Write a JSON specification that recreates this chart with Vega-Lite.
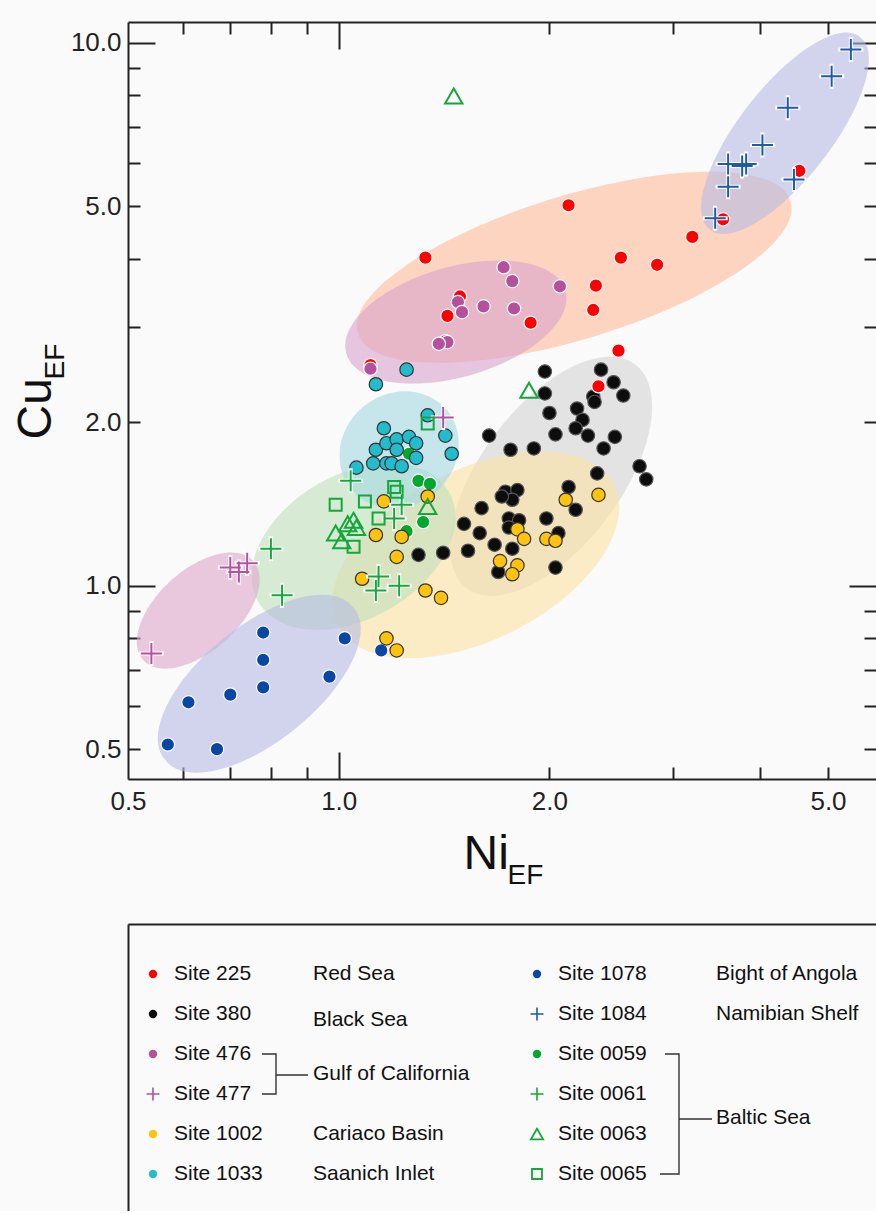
{
  "$schema": "https://vega.github.io/schema/vega-lite/v6.json",
  "background": "#fafafa",
  "padding": {"left": 12, "top": 21, "right": 0, "bottom": 0},
  "spacing": 35,
  "config": {
    "font": "Liberation Sans",
    "view": {"stroke": null},
    "axis": {"grid": false, "domainColor": "#222222", "tickColor": "#222222", "labelColor": "#222222", "titleColor": "#111111", "titleFontWeight": "normal", "domainWidth": 2, "tickWidth": 2}
  },
  "datasets": {
    "ellipses": [
      {"grp": "Site 380", "ni": 2.01, "cu": 1.59},
      {"grp": "Site 1002", "ni": 1.57, "cu": 1.14},
      {"grp": "Baltic", "ni": 1.05, "cu": 1.18},
      {"grp": "Site 1033", "ni": 1.22, "cu": 1.78},
      {"grp": "Site 225", "ni": 2.17, "cu": 3.86},
      {"grp": "Site 476", "ni": 1.47, "cu": 3.06},
      {"grp": "Site 1084", "ni": 4.34, "cu": 6.81},
      {"grp": "Site 477", "ni": 0.63, "cu": 0.90},
      {"grp": "Site 1078", "ni": 0.77, "cu": 0.66}
    ],
    "pts": [
      {"site": "Site 380", "ni": 1.97, "cu": 2.48}, {"site": "Site 380", "ni": 2.37, "cu": 2.50}, {"site": "Site 380", "ni": 2.47, "cu": 2.37}, {"site": "Site 380", "ni": 2.55, "cu": 2.24},
      {"site": "Site 380", "ni": 1.97, "cu": 2.26}, {"site": "Site 380", "ni": 2.31, "cu": 2.23}, {"site": "Site 380", "ni": 2.32, "cu": 2.18}, {"site": "Site 380", "ni": 2.00, "cu": 2.08},
      {"site": "Site 380", "ni": 2.19, "cu": 2.12}, {"site": "Site 380", "ni": 2.23, "cu": 2.02}, {"site": "Site 380", "ni": 2.18, "cu": 1.95}, {"site": "Site 380", "ni": 2.27, "cu": 1.89},
      {"site": "Site 380", "ni": 2.48, "cu": 1.88}, {"site": "Site 380", "ni": 2.04, "cu": 1.90}, {"site": "Site 380", "ni": 1.64, "cu": 1.89}, {"site": "Site 380", "ni": 2.39, "cu": 1.79},
      {"site": "Site 380", "ni": 1.76, "cu": 1.78}, {"site": "Site 380", "ni": 1.90, "cu": 1.79}, {"site": "Site 380", "ni": 2.69, "cu": 1.66}, {"site": "Site 380", "ni": 2.75, "cu": 1.57},
      {"site": "Site 380", "ni": 2.34, "cu": 1.61}, {"site": "Site 380", "ni": 2.13, "cu": 1.52}, {"site": "Site 380", "ni": 2.18, "cu": 1.38}, {"site": "Site 380", "ni": 1.73, "cu": 1.49},
      {"site": "Site 380", "ni": 1.80, "cu": 1.50}, {"site": "Site 380", "ni": 1.77, "cu": 1.44}, {"site": "Site 380", "ni": 1.71, "cu": 1.46}, {"site": "Site 380", "ni": 1.60, "cu": 1.39},
      {"site": "Site 380", "ni": 1.51, "cu": 1.30}, {"site": "Site 380", "ni": 1.59, "cu": 1.25}, {"site": "Site 380", "ni": 1.75, "cu": 1.33}, {"site": "Site 380", "ni": 1.81, "cu": 1.32},
      {"site": "Site 380", "ni": 1.75, "cu": 1.28}, {"site": "Site 380", "ni": 1.98, "cu": 1.33}, {"site": "Site 380", "ni": 2.06, "cu": 1.25}, {"site": "Site 380", "ni": 1.67, "cu": 1.19},
      {"site": "Site 380", "ni": 1.77, "cu": 1.17}, {"site": "Site 380", "ni": 1.53, "cu": 1.16}, {"site": "Site 380", "ni": 1.41, "cu": 1.15}, {"site": "Site 380", "ni": 1.30, "cu": 1.14},
      {"site": "Site 380", "ni": 1.69, "cu": 1.06}, {"site": "Site 380", "ni": 2.04, "cu": 1.08},
      {"site": "Site 0059", "ni": 1.26, "cu": 1.75}, {"site": "Site 0059", "ni": 1.30, "cu": 1.56}, {"site": "Site 0059", "ni": 1.35, "cu": 1.54}, {"site": "Site 0059", "ni": 1.32, "cu": 1.31}, {"site": "Site 0059", "ni": 1.25, "cu": 1.26},
      {"site": "Site 1078", "ni": 0.78, "cu": 0.82}, {"site": "Site 1078", "ni": 0.78, "cu": 0.73}, {"site": "Site 1078", "ni": 0.78, "cu": 0.65}, {"site": "Site 1078", "ni": 0.70, "cu": 0.63},
      {"site": "Site 1078", "ni": 0.61, "cu": 0.61}, {"site": "Site 1078", "ni": 0.57, "cu": 0.51}, {"site": "Site 1078", "ni": 0.67, "cu": 0.50}, {"site": "Site 1078", "ni": 1.02, "cu": 0.80},
      {"site": "Site 1078", "ni": 0.97, "cu": 0.68}, {"site": "Site 1078", "ni": 1.15, "cu": 0.76},
      {"site": "Site 225", "ni": 3.20, "cu": 4.39}, {"site": "Site 225", "ni": 3.54, "cu": 4.73}, {"site": "Site 225", "ni": 4.55, "cu": 5.81}, {"site": "Site 225", "ni": 2.13, "cu": 5.02},
      {"site": "Site 225", "ni": 1.33, "cu": 4.02}, {"site": "Site 225", "ni": 2.53, "cu": 4.02}, {"site": "Site 225", "ni": 2.85, "cu": 3.90}, {"site": "Site 225", "ni": 2.33, "cu": 3.57},
      {"site": "Site 225", "ni": 2.31, "cu": 3.22}, {"site": "Site 225", "ni": 1.43, "cu": 3.14}, {"site": "Site 225", "ni": 1.88, "cu": 3.05}, {"site": "Site 225", "ni": 2.51, "cu": 2.71},
      {"site": "Site 225", "ni": 1.49, "cu": 3.41}, {"site": "Site 225", "ni": 1.42, "cu": 2.82}, {"site": "Site 225", "ni": 1.11, "cu": 2.55}, {"site": "Site 225", "ni": 2.35, "cu": 2.33},
      {"site": "Site 476", "ni": 1.72, "cu": 3.86}, {"site": "Site 476", "ni": 1.77, "cu": 3.64}, {"site": "Site 476", "ni": 2.07, "cu": 3.56}, {"site": "Site 476", "ni": 1.61, "cu": 3.27},
      {"site": "Site 476", "ni": 1.78, "cu": 3.24}, {"site": "Site 476", "ni": 1.48, "cu": 3.33}, {"site": "Site 476", "ni": 1.50, "cu": 3.19}, {"site": "Site 476", "ni": 1.43, "cu": 2.81},
      {"site": "Site 476", "ni": 1.39, "cu": 2.79}, {"site": "Site 476", "ni": 1.11, "cu": 2.51},
      {"site": "Site 1002", "ni": 1.16, "cu": 1.43}, {"site": "Site 1002", "ni": 1.34, "cu": 1.46}, {"site": "Site 1002", "ni": 1.13, "cu": 1.24}, {"site": "Site 1002", "ni": 1.23, "cu": 1.23},
      {"site": "Site 1002", "ni": 1.21, "cu": 1.13}, {"site": "Site 1002", "ni": 1.08, "cu": 1.03}, {"site": "Site 1002", "ni": 1.33, "cu": 0.98}, {"site": "Site 1002", "ni": 1.40, "cu": 0.95},
      {"site": "Site 1002", "ni": 1.17, "cu": 0.80}, {"site": "Site 1002", "ni": 1.21, "cu": 0.76}, {"site": "Site 1002", "ni": 2.11, "cu": 1.44}, {"site": "Site 1002", "ni": 2.35, "cu": 1.47},
      {"site": "Site 1002", "ni": 1.80, "cu": 1.27}, {"site": "Site 1002", "ni": 1.84, "cu": 1.22}, {"site": "Site 1002", "ni": 1.98, "cu": 1.22}, {"site": "Site 1002", "ni": 2.04, "cu": 1.21},
      {"site": "Site 1002", "ni": 1.70, "cu": 1.11}, {"site": "Site 1002", "ni": 1.80, "cu": 1.09}, {"site": "Site 1002", "ni": 1.77, "cu": 1.05},
      {"site": "Site 1033", "ni": 1.25, "cu": 2.50}, {"site": "Site 1033", "ni": 1.13, "cu": 2.35}, {"site": "Site 1033", "ni": 1.34, "cu": 2.06}, {"site": "Site 1033", "ni": 1.42, "cu": 1.89},
      {"site": "Site 1033", "ni": 1.45, "cu": 1.75}, {"site": "Site 1033", "ni": 1.16, "cu": 1.95}, {"site": "Site 1033", "ni": 1.13, "cu": 1.78}, {"site": "Site 1033", "ni": 1.17, "cu": 1.83},
      {"site": "Site 1033", "ni": 1.21, "cu": 1.86}, {"site": "Site 1033", "ni": 1.26, "cu": 1.88}, {"site": "Site 1033", "ni": 1.29, "cu": 1.83}, {"site": "Site 1033", "ni": 1.21, "cu": 1.78},
      {"site": "Site 1033", "ni": 1.29, "cu": 1.72}, {"site": "Site 1033", "ni": 1.12, "cu": 1.68}, {"site": "Site 1033", "ni": 1.17, "cu": 1.68}, {"site": "Site 1033", "ni": 1.19, "cu": 1.68},
      {"site": "Site 1033", "ni": 1.23, "cu": 1.66}, {"site": "Site 1033", "ni": 1.06, "cu": 1.65},
      {"site": "Site 1084", "ni": 5.39, "cu": 9.72}, {"site": "Site 1084", "ni": 5.06, "cu": 8.68}, {"site": "Site 1084", "ni": 4.38, "cu": 7.59}, {"site": "Site 1084", "ni": 4.03, "cu": 6.48},
      {"site": "Site 1084", "ni": 3.60, "cu": 5.98}, {"site": "Site 1084", "ni": 3.82, "cu": 5.98}, {"site": "Site 1084", "ni": 3.77, "cu": 5.93}, {"site": "Site 1084", "ni": 4.47, "cu": 5.60},
      {"site": "Site 1084", "ni": 3.60, "cu": 5.43}, {"site": "Site 1084", "ni": 3.45, "cu": 4.75},
      {"site": "Site 477", "ni": 0.70, "cu": 1.08}, {"site": "Site 477", "ni": 0.72, "cu": 1.06}, {"site": "Site 477", "ni": 0.74, "cu": 1.10}, {"site": "Site 477", "ni": 0.54, "cu": 0.75}, {"site": "Site 477", "ni": 1.41, "cu": 2.04},
      {"site": "Site 0061", "ni": 1.04, "cu": 1.56}, {"site": "Site 0061", "ni": 1.23, "cu": 1.41}, {"site": "Site 0061", "ni": 1.20, "cu": 1.33}, {"site": "Site 0061", "ni": 0.80, "cu": 1.17},
      {"site": "Site 0061", "ni": 0.83, "cu": 0.96}, {"site": "Site 0061", "ni": 1.14, "cu": 1.04}, {"site": "Site 0061", "ni": 1.13, "cu": 0.98}, {"site": "Site 0061", "ni": 1.22, "cu": 1.00},
      {"site": "Site 0063", "ni": 1.03, "cu": 1.30}, {"site": "Site 0063", "ni": 1.05, "cu": 1.32}, {"site": "Site 0063", "ni": 0.99, "cu": 1.25}, {"site": "Site 0063", "ni": 1.01, "cu": 1.21},
      {"site": "Site 0063", "ni": 1.06, "cu": 1.28}, {"site": "Site 0063", "ni": 1.34, "cu": 1.40}, {"site": "Site 0063", "ni": 1.87, "cu": 2.29}, {"site": "Site 0063", "ni": 1.46, "cu": 7.98},
      {"site": "Site 0065", "ni": 0.99, "cu": 1.41}, {"site": "Site 0065", "ni": 1.09, "cu": 1.43}, {"site": "Site 0065", "ni": 1.20, "cu": 1.52}, {"site": "Site 0065", "ni": 1.21, "cu": 1.49},
      {"site": "Site 0065", "ni": 1.34, "cu": 1.99}, {"site": "Site 0065", "ni": 1.14, "cu": 1.33}, {"site": "Site 0065", "ni": 1.05, "cu": 1.18}
    ],
    "legend": [
      {"site": "Site 225", "col": 0, "row": 1, "kind": "circle"},
      {"site": "Site 380", "col": 0, "row": 2, "kind": "circle"},
      {"site": "Site 476", "col": 0, "row": 3, "kind": "circle"},
      {"site": "Site 477", "col": 0, "row": 4, "kind": "cross"},
      {"site": "Site 1002", "col": 0, "row": 5, "kind": "circle"},
      {"site": "Site 1033", "col": 0, "row": 6, "kind": "circle"},
      {"site": "Site 1078", "col": 1, "row": 1, "kind": "circle"},
      {"site": "Site 1084", "col": 1, "row": 2, "kind": "cross"},
      {"site": "Site 0059", "col": 1, "row": 3, "kind": "circle"},
      {"site": "Site 0061", "col": 1, "row": 4, "kind": "cross"},
      {"site": "Site 0063", "col": 1, "row": 5, "kind": "triangle"},
      {"site": "Site 0065", "col": 1, "row": 6, "kind": "square"}
    ],
    "regions": [
      {"region": "Red Sea", "col": 0, "row": 1},
      {"region": "Black Sea", "col": 0, "row": 2.15},
      {"region": "Gulf of California", "col": 0, "row": 3.5},
      {"region": "Cariaco Basin", "col": 0, "row": 5},
      {"region": "Saanich Inlet", "col": 0, "row": 6},
      {"region": "Bight of Angola", "col": 1, "row": 1},
      {"region": "Namibian Shelf", "col": 1, "row": 2},
      {"region": "Baltic Sea", "col": 1, "row": 4.6}
    ],
    "brackets": [
      {"grp": "Gulf", "col": 0, "row": 3.5},
      {"grp": "Baltic", "col": 1, "row": 4.5}
    ]
  },
  "vconcat": [
    {
      "width": 748,
      "height": 757,
      "resolve": {"axis": {"x": "independent", "y": "independent"}},
      "layer": [
        {
          "data": {"name": "ellipses"},
          "mark": {"type": "point", "filled": true, "size": 4, "opacity": 0.6, "strokeWidth": 0},
          "encoding": {
            "x": {"field": "ni", "type": "quantitative", "scale": {"type": "log", "domain": [0.5, 5.855], "nice": false},
              "axis": {"orient": "bottom", "values": [0.5, 1, 2, 5], "ticks": false, "labelFontSize": 26, "labelPadding": 9, "labelFlush": false, "labelOverlap": false, "labelExpr": "format(datum.value, '.1f')",
                "title": "Ni", "titleFontSize": 48, "titleX": 335, "titleY": 89, "titleAlign": "left", "titleBaseline": "alphabetic", "titleAngle": 0}},
            "y": {"field": "cu", "type": "quantitative", "scale": {"type": "log", "domain": [0.4406, 10.92], "nice": false},
              "axis": {"orient": "left", "values": [0.5, 1, 2, 5, 10], "ticks": false, "labelFontSize": 26, "labelPadding": 7, "labelFlush": false, "labelOverlap": false, "labelExpr": "format(datum.value, '.1f')",
                "title": "Cu", "titleFontSize": 48, "titleX": -78, "titleY": 417, "titleAlign": "left", "titleBaseline": "alphabetic", "titleAngle": -90}},
            "shape": {"field": "grp", "type": "nominal", "legend": null, "scale": {
              "domain": ["Site 225", "Site 476", "Site 1084", "Site 380", "Site 1002", "Baltic", "Site 1033", "Site 477", "Site 1078"],
              "range": [
                "M -216.1 66.1 A 226 71 -17 1 1 216.1 -66.1 A 226 71 -17 1 1 -216.1 66.1 Z",
                "M -109.6 31.4 A 114 55 -16 1 1 109.6 -31.4 A 114 55 -16 1 1 -109.6 31.4 Z",
                "M -75.1 96.1 A 122 45 -52 1 1 75.1 -96.1 A 122 45 -52 1 1 -75.1 96.1 Z",
                "M -84.3 111.8 A 140 70 -53 1 1 84.3 -111.8 A 140 70 -53 1 1 -84.3 111.8 Z",
                "M -138.1 70.4 A 155 85 -27 1 1 138.1 -70.4 A 155 85 -27 1 1 -138.1 70.4 Z",
                "M -95.3 55 A 110 72 -30 1 1 95.3 -55 A 110 72 -30 1 1 -95.3 55 Z",
                "M -47.5 39.9 A 62 56 -40 1 1 47.5 -39.9 A 62 56 -40 1 1 -47.5 39.9 Z",
                "M -55 49.5 A 74 40 -42 1 1 55 -49.5 A 74 40 -42 1 1 -55 49.5 Z",
                "M -94 76.1 A 121 56 -39 1 1 94 -76.1 A 121 56 -39 1 1 -94 76.1 Z"
              ]}},
            "fill": {"field": "grp", "type": "nominal", "legend": null, "scale": {
              "domain": ["Site 225", "Site 476", "Site 1084", "Site 380", "Site 1002", "Baltic", "Site 1033", "Site 477", "Site 1078"],
              "range": ["#febb9a", "#d9a1cc", "#b5bbe3", "#d3d3d3", "#fee3a1", "#bfe0bb", "#a4d9e3", "#dda7cc", "#b5bbe3"]}}
          }
        },
        {
          "data": {"name": "pts"},
          "transform": [{"filter": {"field": "site", "oneOf": ["Site 380", "Site 0059", "Site 1078", "Site 225", "Site 476", "Site 1002", "Site 1033"]}}],
          "mark": {"type": "point", "shape": "circle", "filled": true, "size": 180, "strokeWidth": 1.2, "opacity": 1},
          "encoding": {
            "x": {"field": "ni", "type": "quantitative", "scale": {"type": "log", "domain": [0.5, 5.855], "nice": false},
              "axis": {"orient": "bottom", "values": [0.6, 0.7, 0.8, 0.9, 1, 2, 3, 4, 5], "labels": false, "domain": false,
                "tickSize": {"condition": {"test": "datum.value === 1", "value": -27}, "value": -12},
                "title": "EF", "titleFontSize": 28, "titleX": 379, "titleY": 104, "titleAlign": "left", "titleBaseline": "alphabetic", "titleAngle": 0}},
            "y": {"field": "cu", "type": "quantitative", "scale": {"type": "log", "domain": [0.4406, 10.92], "nice": false},
              "axis": {"orient": "left", "values": [0.5, 0.6, 0.7, 0.8, 0.9, 1, 2, 3, 4, 5, 6, 7, 8, 9, 10], "labels": false, "domain": false,
                "tickSize": {"condition": {"test": "datum.value === 1 || datum.value === 10", "value": -27}, "value": -12},
                "title": "EF", "titleFontSize": 28, "titleX": -65, "titleY": 357, "titleAlign": "left", "titleBaseline": "alphabetic", "titleAngle": -90}},
            "color": {"field": "site", "type": "nominal", "legend": null, "scale": {
              "domain": ["Site 225", "Site 380", "Site 476", "Site 477", "Site 1002", "Site 1033", "Site 1078", "Site 1084", "Site 0059", "Site 0061", "Site 0063", "Site 0065"],
              "range": ["#ff0000", "#0d0d0d", "#b4509c", "#b4509c", "#ffc20e", "#22bccc", "#0a47a5", "#1f5aa6", "#00a82d", "#12a83a", "#12a83a", "#12a83a"]}},
            "stroke": {"field": "site", "type": "nominal", "legend": null, "scale": {
              "domain": ["Site 225", "Site 380", "Site 476", "Site 1002", "Site 1033", "Site 1078", "Site 0059"],
              "range": ["#ffffff", "#555555", "#ffffff", "#333333", "#333333", "#ffffff", "#ffffff"]}}
          }
        },
        {
          "data": {"name": "pts"},
          "transform": [{"filter": {"field": "site", "oneOf": ["Site 1084", "Site 477", "Site 0061"]}}],
          "mark": {"type": "point", "shape": "M -1 0 L 1 0 M 0 -1 L 0 1", "filled": false, "size": 441, "stroke": "#ffffff", "strokeWidth": 4, "strokeCap": "square", "opacity": 1},
          "encoding": {
            "x": {"field": "ni", "type": "quantitative", "scale": {"type": "log", "domain": [0.5, 5.855], "nice": false},
              "axis": {"orient": "top", "values": [0.6, 0.7, 0.8, 0.9, 1, 2, 3, 4, 5], "labels": false, "domain": true, "title": null,
                "tickSize": {"condition": {"test": "datum.value === 1", "value": -27}, "value": -12}}},
            "y": {"field": "cu", "type": "quantitative", "scale": {"type": "log", "domain": [0.4406, 10.92], "nice": false},
              "axis": {"orient": "right", "values": [0.5, 0.6, 0.7, 0.8, 0.9, 1, 2, 3, 4, 5, 6, 7, 8, 9, 10], "labels": false, "domain": false, "title": null,
                "tickSize": {"condition": {"test": "datum.value === 1 || datum.value === 10", "value": -27}, "value": -12}}}
          }
        },
        {
          "data": {"name": "pts"},
          "transform": [{"filter": {"field": "site", "oneOf": ["Site 1084", "Site 477", "Site 0061"]}}],
          "mark": {"type": "point", "shape": "M -1 0 L 1 0 M 0 -1 L 0 1", "filled": false, "size": 441, "strokeWidth": 2, "opacity": 1},
          "encoding": {
            "x": {"field": "ni", "type": "quantitative", "scale": {"type": "log", "domain": [0.5, 5.855], "nice": false}, "axis": null},
            "y": {"field": "cu", "type": "quantitative", "scale": {"type": "log", "domain": [0.4406, 10.92], "nice": false}, "axis": null},
            "color": {"field": "site", "type": "nominal", "legend": null, "scale": {
              "domain": ["Site 225", "Site 380", "Site 476", "Site 477", "Site 1002", "Site 1033", "Site 1078", "Site 1084", "Site 0059", "Site 0061", "Site 0063", "Site 0065"],
              "range": ["#ff0000", "#0d0d0d", "#b4509c", "#b4509c", "#ffc20e", "#22bccc", "#0a47a5", "#1f5aa6", "#00a82d", "#12a83a", "#12a83a", "#12a83a"]}}
          }
        },
        {
          "data": {"name": "pts"},
          "transform": [{"filter": {"field": "site", "equal": "Site 0063"}}],
          "mark": {"type": "point", "shape": "triangle-up", "filled": false, "size": 300, "strokeWidth": 2, "opacity": 1},
          "encoding": {
            "x": {"field": "ni", "type": "quantitative", "scale": {"type": "log", "domain": [0.5, 5.855], "nice": false}, "axis": null},
            "y": {"field": "cu", "type": "quantitative", "scale": {"type": "log", "domain": [0.4406, 10.92], "nice": false}, "axis": null},
            "color": {"field": "site", "type": "nominal", "legend": null}
          }
        },
        {
          "data": {"name": "pts"},
          "transform": [{"filter": {"field": "site", "equal": "Site 0065"}}],
          "mark": {"type": "point", "shape": "square", "filled": false, "size": 144, "strokeWidth": 2, "opacity": 1},
          "encoding": {
            "x": {"field": "ni", "type": "quantitative", "scale": {"type": "log", "domain": [0.5, 5.855], "nice": false}, "axis": null},
            "y": {"field": "cu", "type": "quantitative", "scale": {"type": "log", "domain": [0.4406, 10.92], "nice": false}, "axis": null},
            "color": {"field": "site", "type": "nominal", "legend": null}
          }
        }
      ]
    },
    {
      "width": 748,
      "height": 287,
      "encoding": {
        "x": {"field": "col", "type": "quantitative", "scale": {"domain": [-0.0651, 1.8828], "nice": false, "zero": false},
          "axis": {"orient": "top", "domain": true, "ticks": false, "labels": false, "title": null, "grid": false}},
        "y": {"field": "row", "type": "quantitative", "scale": {"domain": [-0.25, 6.925], "nice": false, "zero": false, "reverse": true},
          "axis": {"orient": "left", "domain": true, "ticks": false, "labels": false, "title": null, "grid": false}}
      },
      "layer": [
        {
          "data": {"name": "legend"},
          "transform": [{"filter": {"field": "kind", "equal": "circle"}}],
          "mark": {"type": "point", "shape": "circle", "filled": true, "size": 70, "strokeWidth": 0, "opacity": 1},
          "encoding": {"color": {"field": "site", "type": "nominal", "legend": null}}
        },
        {
          "data": {"name": "legend"},
          "transform": [{"filter": {"field": "kind", "equal": "cross"}}],
          "mark": {"type": "point", "shape": "M -1 0 L 1 0 M 0 -1 L 0 1", "filled": false, "size": 169, "strokeWidth": 1.6, "opacity": 1},
          "encoding": {"color": {"field": "site", "type": "nominal", "legend": null}}
        },
        {
          "data": {"name": "legend"},
          "transform": [{"filter": {"field": "kind", "equal": "triangle"}}],
          "mark": {"type": "point", "shape": "triangle-up", "filled": false, "size": 150, "strokeWidth": 1.8, "opacity": 1},
          "encoding": {"color": {"field": "site", "type": "nominal", "legend": null}}
        },
        {
          "data": {"name": "legend"},
          "transform": [{"filter": {"field": "kind", "equal": "square"}}],
          "mark": {"type": "point", "shape": "square", "filled": false, "size": 100, "strokeWidth": 1.8, "opacity": 1},
          "encoding": {"color": {"field": "site", "type": "nominal", "legend": null}}
        },
        {
          "data": {"name": "legend"},
          "mark": {"type": "text", "align": "left", "baseline": "middle", "dx": 21, "fontSize": 21, "color": "#111111"},
          "encoding": {"text": {"field": "site"}}
        },
        {
          "data": {"name": "regions"},
          "transform": [{"filter": "datum.col == 0"}],
          "mark": {"type": "text", "align": "left", "baseline": "middle", "dx": 160, "fontSize": 21, "color": "#111111"},
          "encoding": {"text": {"field": "region"}}
        },
        {
          "data": {"name": "regions"},
          "transform": [{"filter": "datum.col == 1"}],
          "mark": {"type": "text", "align": "left", "baseline": "middle", "dx": 179, "fontSize": 21, "color": "#111111"},
          "encoding": {"text": {"field": "region"}}
        },
        {
          "data": {"name": "brackets"},
          "transform": [{"filter": "datum.grp == 'Gulf'"}],
          "mark": {"type": "point", "shape": "M 109 -20 L 123 -20 L 123 20 L 109 20 M 123 1 L 155 1", "filled": false, "size": 4, "stroke": "#333333", "strokeWidth": 1.4, "opacity": 1}
        },
        {
          "data": {"name": "brackets"},
          "transform": [{"filter": "datum.grp == 'Baltic'"}],
          "mark": {"type": "point", "shape": "M 128 -60 L 142 -60 L 142 60 L 123 60 M 142 5 L 175 5", "filled": false, "size": 4, "stroke": "#333333", "strokeWidth": 1.4, "opacity": 1}
        }
      ]
    }
  ]
}
